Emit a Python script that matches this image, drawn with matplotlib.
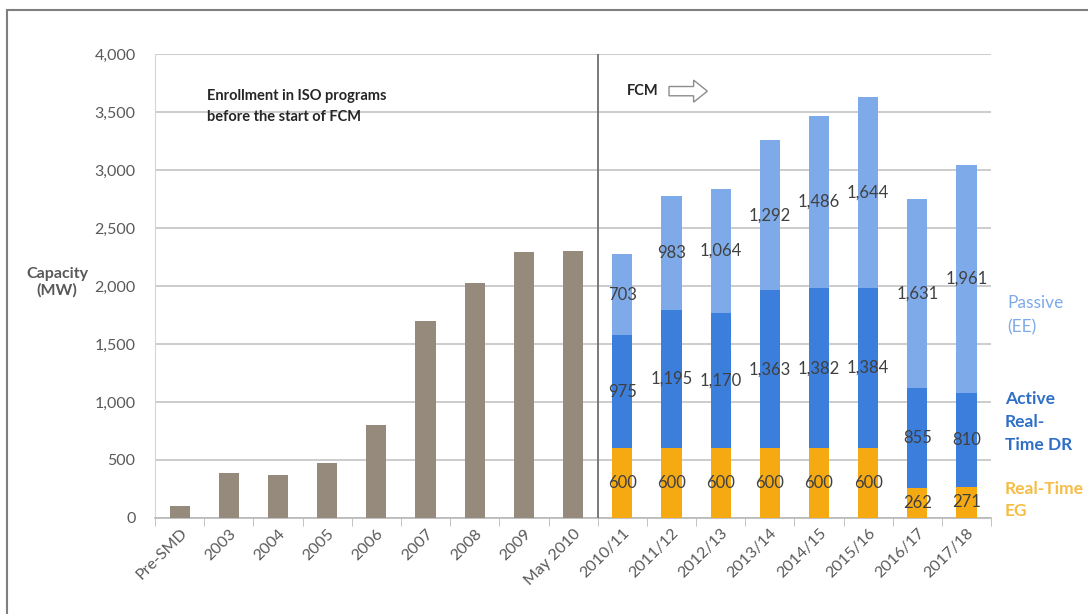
import numpy as np
import matplotlib.pyplot as plt
from matplotlib.patches import Rectangle, FancyArrow

plt.rcParams["font.family"] = ["Lato", "DejaVu Sans"]

# enrollment before FCM (MW)
pre_labels = ['Pre-SMD', '2003', '2004', '2005', '2006', '2007', '2008', '2009', 'May 2010']
pre_values = [100, 390, 370, 478, 805, 1695, 2030, 2290, 2300]

# FCM capacity by commitment period (MW)
fcm_labels = ['2010/11', '2011/12', '2012/13', '2013/14', '2014/15', '2015/16', '2016/17', '2017/18']
eg = [600, 600, 600, 600, 600, 600, 262, 271]
dr = [975, 1195, 1170, 1363, 1382, 1384, 855, 810]
ee = [703, 983, 1064, 1292, 1486, 1644, 1631, 1961]

c_gray = '#968a7d'
c_eg = '#f5aa12'
c_dr = '#3b7edb'
c_ee = '#7eaae9'
c_txt = '#595959'

fig = plt.figure(figsize=(10.88, 6.14), dpi=100)
ax = fig.add_axes([0.1425, 0.1564, 0.7685, 0.7556])

labels = pre_labels + fcm_labels
x_pre = np.arange(len(pre_labels))
x_fcm = np.arange(len(pre_labels), len(labels))
w = 0.41

ax.bar(x_pre, pre_values, w, color=c_gray, zorder=3)

eg_a = np.array(eg)
dr_a = np.array(dr)
ee_a = np.array(ee)
ax.bar(x_fcm, eg_a, w, color=c_eg, zorder=3)
ax.bar(x_fcm, dr_a, w, bottom=eg_a, color=c_dr, zorder=3)
ax.bar(x_fcm, ee_a, w, bottom=eg_a + dr_a, color=c_ee, zorder=3)

# segment labels at the middle of each piece
for xi, a, b, c in zip(x_fcm, eg_a, dr_a, ee_a):
    for val, mid in [(a, a / 2), (b, a + b / 2), (c, a + b + c / 2)]:
        ax.text(xi, mid, f'{val:,}', ha='center', va='center',
                fontsize=12, color='#404040', zorder=4)

ax.set_xlim(-0.5, len(labels) - 0.5)
ax.set_ylim(0, 4000)
ax.set_yticks(np.arange(0, 4001, 500))
ax.set_yticklabels([f'{v:,}' for v in range(0, 4001, 500)])
ax.yaxis.grid(True, color='#c4c4c4', linewidth=1.2, zorder=0)
ax.tick_params(axis='y', length=0, labelsize=11.5, labelcolor=c_txt, pad=14)

ax.set_xticks(np.arange(len(labels)))
ax.set_xticklabels(labels, rotation=45, ha='right', rotation_mode='anchor')
ax.tick_params(axis='x', length=0, labelsize=11.5, labelcolor=c_txt, pad=6)
ax.set_xticks(np.arange(-0.5, len(labels)), minor=True)
ax.tick_params(axis='x', which='minor', length=6, color='#b8b8b8', direction='out')

for s in ['top', 'right']:
    ax.spines[s].set_visible(False)
ax.spines['left'].set_color('#d6d6d6')
ax.spines['bottom'].set_color('#b8b8b8')
ax.spines['bottom'].set_linewidth(1.2)

# split between pre-FCM and FCM periods
ax.axvline(len(pre_labels) - 0.5, color='#707070', linewidth=1.3, zorder=5)

ax.text(0.55, 3550, 'Enrollment in ISO programs\nbefore the start of FCM',
        fontsize=10.5, fontweight='bold', color='#262626', va='center',
        linespacing=1.6)
ax.text(9.1, 3680, 'FCM', fontsize=10.5, fontweight='bold', color='#262626', va='center')
ax.add_patch(FancyArrow(9.95, 3680, 0.5, 0, width=80, head_width=190,
                        head_length=0.28, length_includes_head=False,
                        facecolor='white', edgecolor='#8c8c8c', linewidth=1, zorder=5))

ax.set_ylabel('Capacity\n(MW)', rotation=0, fontsize=11.5, fontweight='bold',
              color=c_txt, ha='center', va='center')
ax.yaxis.set_label_coords(-0.117, 0.508)

fig.text(1007 / 1088, 1 - 315 / 614, 'Passive\n(EE)', color=c_ee, fontsize=12.5,
         va='center', linespacing=1.6)
fig.text(1005 / 1088, 1 - 422 / 614, 'Active\nReal-\nTime DR', color='#2f6fc6',
         fontsize=12.5, fontweight='bold', va='center', linespacing=1.5)
fig.text(1005 / 1088, 1 - 500 / 614, 'Real-Time\nEG', color='#f6bd45',
         fontsize=12.5, fontweight='bold', va='center', linespacing=1.5)

# outer frame
fig.patches.append(Rectangle((7 / 1088, -0.05), 1.2, 1 - 10 / 614 + 0.05,
                             transform=fig.transFigure, fill=False,
                             edgecolor='#7f7f7f', linewidth=1.5))

fig.savefig('out.png', dpi=100)
